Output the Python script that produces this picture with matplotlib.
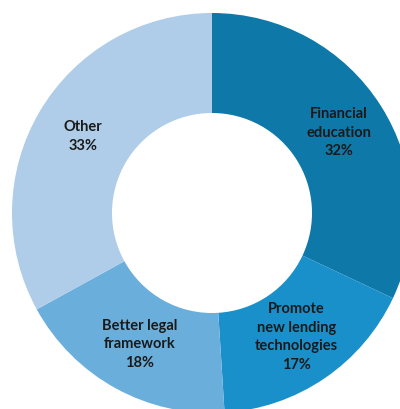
import matplotlib
matplotlib.use("Agg")
import matplotlib.pyplot as plt
import numpy as np

categories = ["Financial\neducation", "Promote\nnew lending\ntechnologies", "Better legal\nframework", "Other"]
shares = [32, 17, 18, 33]
colors = ["#0E78A8", "#1A90CB", "#6AAEDC", "#AFCDE8"]

W, H = 400, 409
fig = plt.figure(figsize=(W / 100, H / 100), dpi=100)
# ring of radius 200 px centred at (212, 213) px, spilling past the right/bottom edges
cx, cy, R = 212, 213, 200
ax = fig.add_axes([(cx - R) / W, (H - cy - R) / H, 2 * R / W, 2 * R / H])

wedges, _ = ax.pie(shares, colors=colors, startangle=90, counterclock=False,
                   radius=1, wedgeprops=dict(width=0.5, edgecolor="none"))
ax.set_xlim(-1, 1)
ax.set_ylim(-1, 1)
ax.axis("off")

for w, label, s in zip(wedges, categories, shares):
    ang = np.deg2rad((w.theta1 + w.theta2) / 2)
    x, y = 0.75 * np.cos(ang), 0.75 * np.sin(ang)
    ax.text(x, y, f"{label}\n{s}%", ha="center", va="center",
            fontsize=10.5, fontweight="bold", family="Lato", color="#1a1a1a",
            linespacing=1.42)

fig.savefig("out.png", dpi=100)
